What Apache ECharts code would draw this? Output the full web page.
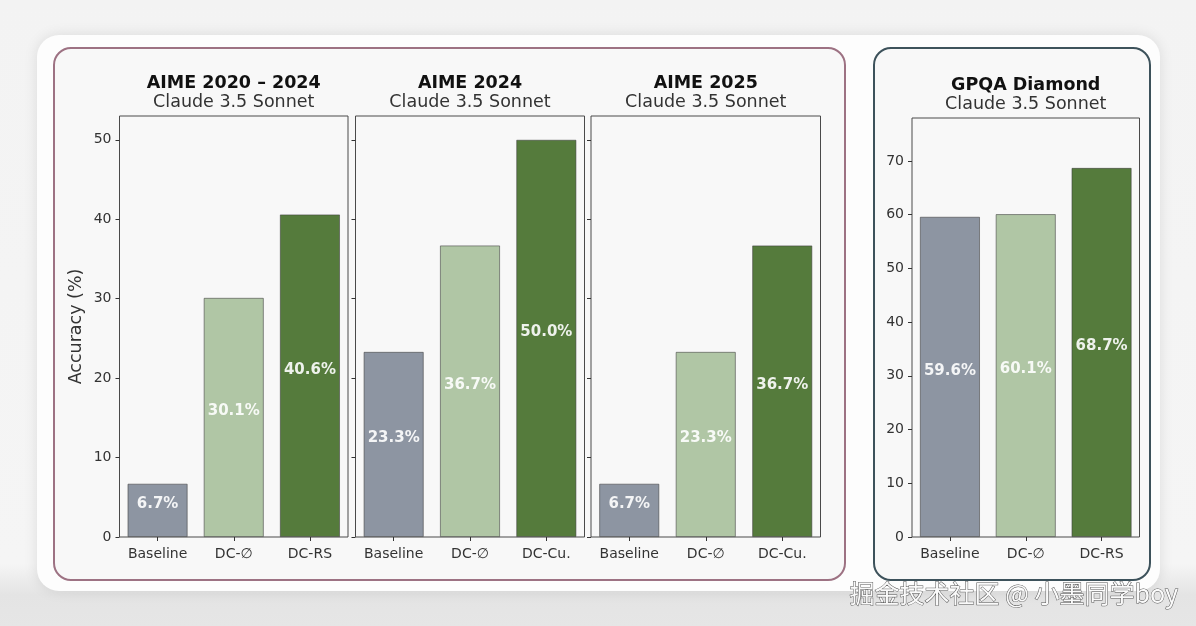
<!DOCTYPE html>
<html>
<head>
<meta charset="utf-8">
<script src="https://cdn.jsdelivr.net/npm/echarts@6/dist/echarts.min.js"></script>
<style>
  html, body { margin:0; padding:0; width:1196px; height:626px; overflow:hidden;
    background: linear-gradient(to bottom, #f3f3f3 0%, #f5f5f5 90%, #e4e4e4 95%, #e6e6e6 100%); }
  #card { position:absolute; left:37px; top:35px; width:1123px; height:556px; border-radius:22px;
    background:#fdfdfd; box-shadow: 0 0 14px rgba(0,0,0,0.10); }
  .panel { position:absolute; top:47px; height:534px; border-radius:18px; background:#f8f8f8; box-sizing:border-box; }
  #p1 { left:53px; width:793px; border:2px solid #9d7283; }
  #p2 { left:873px; width:278px; border:2px solid #3d525b; }
  #chart { position:absolute; left:0; top:0; width:1196px; height:626px; }
</style>
</head>
<body>
<div id="card"></div>
<div class="panel" id="p1"></div>
<div class="panel" id="p2"></div>
<div id="chart"></div>
<script>
// ---- data ----
const categoriesRS = ['Baseline', 'DC-∅', 'DC-RS'];
const categoriesCu = ['Baseline', 'DC-∅', 'DC-Cu.'];
const aime2020_2024 = [6.7, 30.1, 40.6];
const aime2024 = [23.3, 36.7, 50.0];
const aime2025 = [6.7, 23.3, 36.7];
const gpqaDiamond = [59.6, 60.1, 68.7];
const yTicksAime = [0, 10, 20, 30, 40, 50];
const yTicksGpqa = [0, 10, 20, 30, 40, 50, 60, 70];
const titles = ['AIME 2020 – 2024', 'AIME 2024', 'AIME 2025', 'GPQA Diamond'];
const subtitle = 'Claude 3.5 Sonnet';
const barColors = ['#8d95a2', '#b0c6a5', '#557b3c'];

const FONT = 'DejaVu Sans';
const chart = echarts.init(document.getElementById('chart'), null, {renderer:'canvas'});

const panels = [
  {left:119.5, width:228.5, top:116, bottom:89, cats:categoriesRS, data:aime2020_2024, max:53, ticks:yTicksAime, labels:true},
  {left:355.5, width:229, top:116, bottom:89, cats:categoriesCu, data:aime2024, max:53, ticks:yTicksAime, labels:false},
  {left:591, width:229.5, top:116, bottom:89, cats:categoriesCu, data:aime2025, max:53, ticks:yTicksAime, labels:false},
  {left:912, width:227.5, top:118, bottom:89, cats:categoriesRS, data:gpqaDiamond, max:78, ticks:yTicksGpqa, labels:true}
];

const grid = [], xAxis = [], yAxis = [], series = [], graphic = [];
panels.forEach((p, i) => {
  grid.push({left:p.left, width:p.width, top:p.top, bottom:p.bottom, show:true,
    borderColor:'#4a4a4a', borderWidth:1, backgroundColor:'transparent'});
  xAxis.push({type:'category', gridIndex:i, data:p.cats,
    axisLine:{show:false},
    axisTick:{show:true, alignWithLabel:true, interval:0, length:4, lineStyle:{color:'#333'}},
    axisLabel:{interval:0, hideOverlap:false, color:'#333', fontFamily:FONT, fontSize:14, margin:10}});
  yAxis.push({type:'value', gridIndex:i, min:0, max:p.max,
    splitLine:{show:false}, axisLine:{show:false},
    axisTick:{show:true, length:4, lineStyle:{color:'#333'}, customValues:p.ticks},
    axisLabel:{show:p.labels, color:'#333', fontFamily:FONT, fontSize:14, margin:8, customValues:p.ticks},
    name: i === 0 ? 'Accuracy (%)' : '', nameLocation:'middle', nameGap:34, nameRotate:90,
    nameTextStyle:{color:'#333', fontFamily:FONT, fontSize:17.5}});
  series.push({type:'bar', xAxisIndex:i, yAxisIndex:i, barWidth:60,
    data:p.data.map((v, k) => ({value:v, itemStyle:{color:barColors[k]}})),
    itemStyle:{borderColor:'rgba(60,60,60,0.7)', borderWidth:0.8},
    label:{show:true, position:'inside', offset:[0,-6], color:'rgba(255,255,255,0.9)',
      fontFamily:FONT, fontWeight:'bold', fontSize:15,
      formatter: d => d.value.toFixed(1) + '%'}});
  const cx = p.left + p.width / 2;
  const ty = i === 3 ? 85 : 83;
  graphic.push({type:'text', x:cx, y:ty, style:{text:titles[i], fill:'#111', font:'bold 17.5px "' + FONT + '"',
    textAlign:'center', textVerticalAlign:'middle'}});
  graphic.push({type:'text', x:cx, y:ty + 19, style:{text:subtitle, fill:'#333', font:'17.5px "' + FONT + '"',
    textAlign:'center', textVerticalAlign:'middle'}});
});
graphic.push({type:'text', x:1178, y:593, style:{text:'掘金技术社区 @ 小墨同学boy', fill:'#fafafa',
  stroke:'#555', lineWidth:1, font:'25px "Noto Sans CJK SC"', textAlign:'right', textVerticalAlign:'middle'}});

chart.setOption({animation:false, backgroundColor:'transparent', grid, xAxis, yAxis, series, graphic});
</script>
</body>
</html>
